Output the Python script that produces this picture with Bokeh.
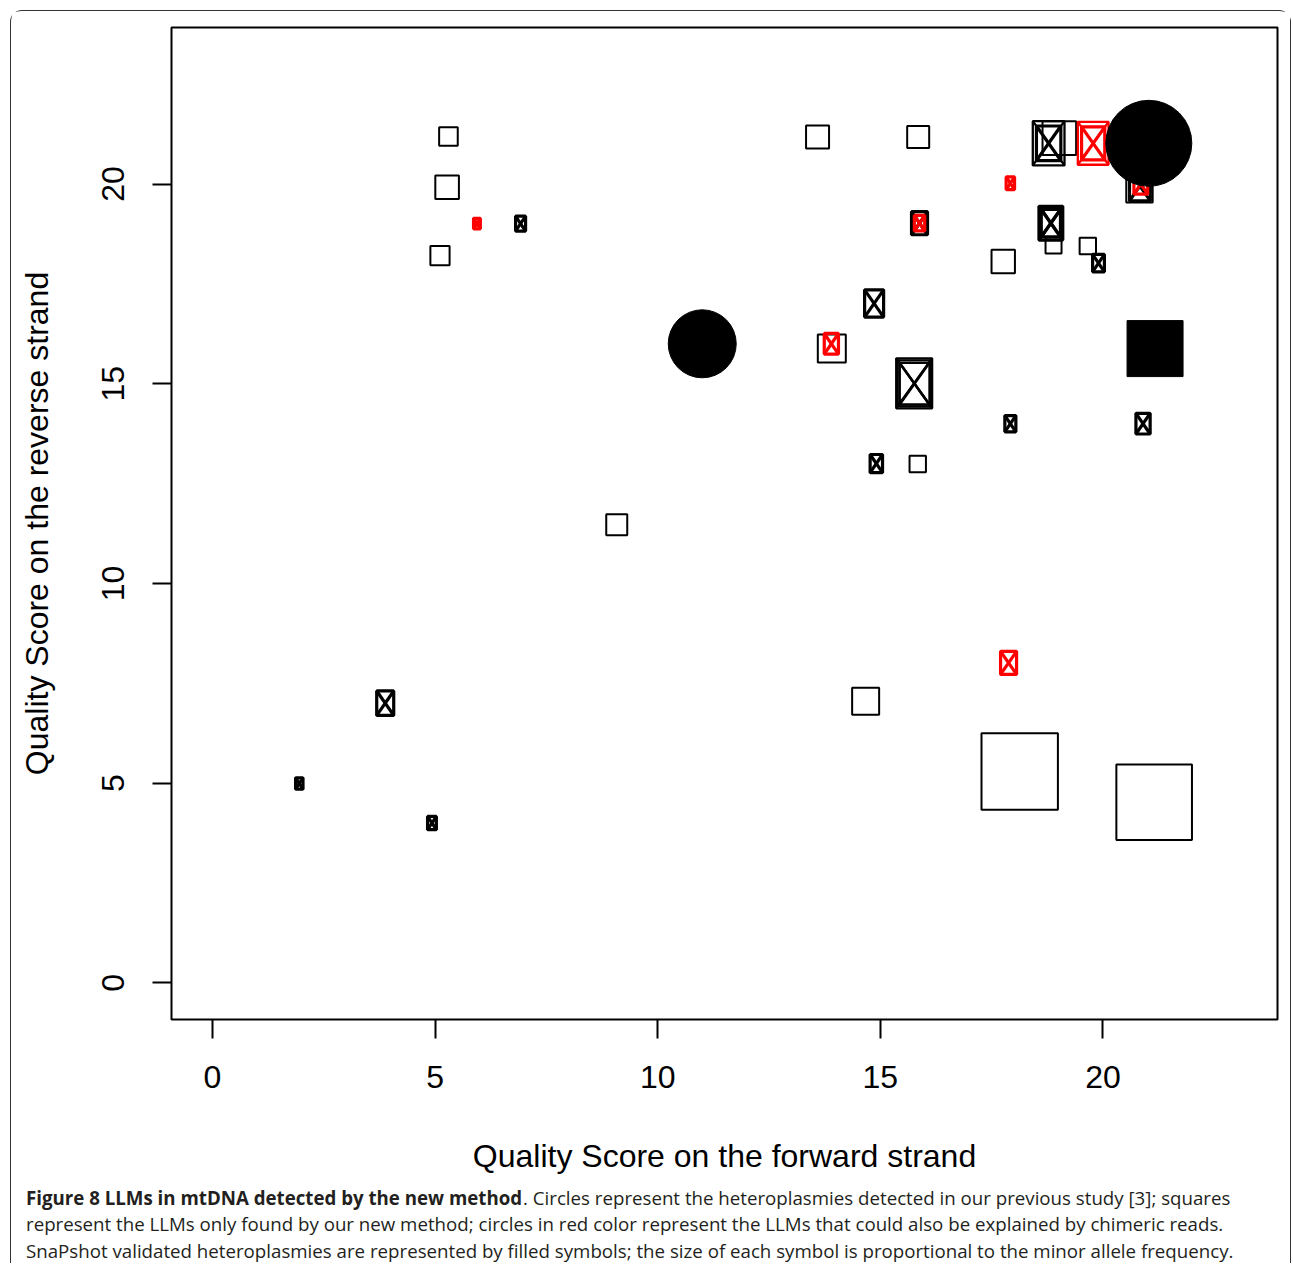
from bokeh.plotting import figure
from bokeh.layouts import column
from bokeh.models import Range1d, FixedTicker, ColumnDataSource
from bokeh.embed import file_html
from bokeh.resources import INLINE
from bokeh.core.properties import value

# ---------------- data ----------------
x_ticks = [0, 5, 10, 15, 20]
y_ticks = [0, 5, 10, 15, 20]
x_title = "Quality Score on the forward strand"
y_title = "Quality Score on the reverse strand"

# open squares: LLMs only found by the new method (symbol size ~ minor allele frequency)
sq_x = [5.30, 5.27, 5.11, 13.59, 15.85, 17.76, 18.89, 19.66, 19.02, 13.91, 15.84, 9.08, 14.67, 18.13, 21.15, 20.82]
sq_y = [21.19, 19.92, 18.21, 21.18, 21.18, 18.06, 18.46, 18.45, 21.15, 15.88, 12.99, 11.47, 7.05, 5.29, 4.52, 19.87]
sq_maf = [9.3, 11.8, 9.6, 11.5, 11.0, 11.7, 8.0, 8.2, 16.8, 14.0, 8.2, 10.5, 13.5, 38.2, 37.8, 13.2]

# filled squares: SnaPshot validated, new method only
fsq_x = [21.17]
fsq_y = [15.88]
fsq_maf = [28.0]

# filled circles: validated heteroplasmies of the previous study
fci_x = [11.0, 21.03]
fci_y = [16.0, 21.02]
fci_maf = [34.0, 43.0]

# boxed crosses (black)
bx_x = [6.92, 1.95, 4.93, 3.88, 14.86, 15.76, 15.76, 15.77, 14.91, 17.92, 20.90, 19.90, 15.88, 18.83, 18.83, 18.78, 18.78, 20.83]
bx_y = [19.01, 4.99, 4.00, 7.00, 17.01, 15.01, 15.01, 15.00, 13.00, 14.00, 14.00, 18.02, 19.02, 19.02, 19.02, 21.02, 21.02, 19.95]
bx_maf = [6.6, 5.3, 6.0, 10.1, 11.1, 19.1, 17.6, 16.0, 7.8, 7.1, 8.7, 7.5, 9.6, 13.5, 11.2, 17.0, 13.8, 12.0]

# boxed crosses (red: could also be explained by chimeric reads)
rx_x = [5.94, 17.92, 13.90, 17.88, 19.78, 19.78, 20.85, 15.88]
rx_y = [19.01, 20.02, 16.00, 8.01, 21.02, 21.02, 20.00, 19.02]
rx_maf = [5.0, 5.8, 8.7, 9.6, 16.5, 13.2, 8.5, 6.8]

caption_bold = "Figure 8 LLMs in mtDNA detected by the new method"
caption_l1 = ". Circles represent the heteroplasmies detected in our previous study [3]; squares"
caption_l2 = "represent the LLMs only found by our new method; circles in red color represent the LLMs that could also be explained by chimeric reads."
caption_l3 = "SnaPshot validated heteroplasmies are represented by filled symbols; the size of each symbol is proportional to the minor allele frequency."

# ---------------- main figure ----------------
W, H = 1279, 1168
ML, MR, MT, MB = 160, 13, 16, 160
X0, X1 = -0.92, 23.92
Y0, Y1 = -0.92, 23.92
PXX = (W - ML - MR) / (X1 - X0)
PXY = (H - MT - MB) / (Y1 - Y0)
SCALE = 2.0      # px per maf unit
ASPECT = 1.37    # height / width of boxed crosses

p = figure(width=W, height=H, x_range=Range1d(X0, X1), y_range=Range1d(Y0, Y1),
           output_backend="svg", toolbar_location=None,
           min_border_left=ML, min_border_right=MR, min_border_top=MT, min_border_bottom=MB)
p.grid.visible = False
p.background_fill_color = "white"
p.border_fill_color = "white"
p.outline_line_color = "black"
p.outline_line_width = 2

for ax, ticks in ((p.xaxis[0], x_ticks), (p.yaxis[0], y_ticks)):
    ax.ticker = FixedTicker(ticks=ticks)
    ax.axis_line_color = None
    ax.major_tick_in = 0
    ax.major_tick_out = 19
    ax.major_tick_line_width = 2
    ax.major_tick_line_color = "black"
    ax.minor_tick_line_color = None
    ax.major_label_text_font = "Liberation Sans"
    ax.major_label_text_font_size = "32px"
    ax.major_label_text_color = "black"
    ax.axis_label_text_font = "Liberation Sans"
    ax.axis_label_text_font_size = "32px"
    ax.axis_label_text_font_style = "normal"
    ax.axis_label_text_color = "black"

p.xaxis.axis_label = x_title
p.yaxis.axis_label = y_title
p.xaxis.major_label_standoff = 27
p.xaxis.axis_label_standoff = 47
p.yaxis.major_label_standoff = 28
p.yaxis.major_label_orientation = "vertical"
p.yaxis.axis_label_standoff = 45

# open squares
p.scatter(x=sq_x, y=sq_y, size=[m * SCALE for m in sq_maf], marker="square",
          fill_color=None, line_color="black", line_width=2)


def boxed_cross(xs, ys, mafs, color):
    lw = [3.2 if m * SCALE < 30 else 2.3 for m in mafs]
    w = [m * SCALE - l for m, l in zip(mafs, lw)]
    h = [m * SCALE * ASPECT - l for m, l in zip(mafs, lw)]
    p.rect(x=xs, y=ys, width=w, height=h, width_units="screen", height_units="screen",
           fill_color=None, line_color=color, line_width=lw)
    hx = [wi / 2 / PXX for wi in w]
    hy = [hi / 2 / PXY for hi in h]
    src = ColumnDataSource(dict(
        x0=[x - a for x, a in zip(xs, hx)] * 2,
        y0=[y + b for y, b in zip(ys, hy)] + [y - b for y, b in zip(ys, hy)],
        x1=[x + a for x, a in zip(xs, hx)] * 2,
        y1=[y - b for y, b in zip(ys, hy)] + [y + b for y, b in zip(ys, hy)],
        lw=lw * 2,
    ))
    p.segment(x0="x0", y0="y0", x1="x1", y1="y1", source=src, line_color=color, line_width="lw")


boxed_cross(bx_x, bx_y, bx_maf, "black")
boxed_cross(rx_x, rx_y, rx_maf, "#ff0000")

# filled symbols
p.scatter(x=fsq_x, y=fsq_y, size=[m * SCALE for m in fsq_maf], marker="square",
          fill_color="black", line_color="black")
p.scatter(x=fci_x, y=fci_y, size=[m * SCALE for m in fci_maf], marker="circle",
          fill_color="black", line_color="black")

# ---------------- caption ----------------
HC = 84
cap = figure(width=W, height=HC, x_range=Range1d(0, W), y_range=Range1d(HC, 0),
             output_backend="svg", toolbar_location=None,
             x_axis_location=None, y_axis_location=None, min_border=0)
cap.grid.visible = False
cap.outline_line_color = None
cap.border_fill_color = "white"
cap.background_fill_color = "white"

for f in (p, cap):
    if "frame_align" in f.properties():
        f.frame_align = False

cap_font = value("Open Sans")
cap_size = "18.7px"
cap_col = "#231f20"
BOLD_W = 497
cap.text(x=[14.5], y=[17.5], text=[caption_bold], text_font=cap_font, text_font_size=cap_size,
         text_font_style="bold", text_color=cap_col, text_baseline="middle")
cap.text(x=[14.5 + BOLD_W, 14.5, 14.5], y=[17.5, 43.5, 70.5],
         text=[caption_l1, caption_l2, caption_l3], text_font=cap_font, text_font_size=cap_size,
         text_color=cap_col, text_baseline="middle")

layout = column(p, cap, styles={"margin-left": "10px", "margin-top": "10px",
                                "border": "1.5px solid #333333", "border-bottom": "none",
                                "border-radius": "12px 12px 0 0"})

open("out.html", "w").write(file_html(layout, INLINE))
